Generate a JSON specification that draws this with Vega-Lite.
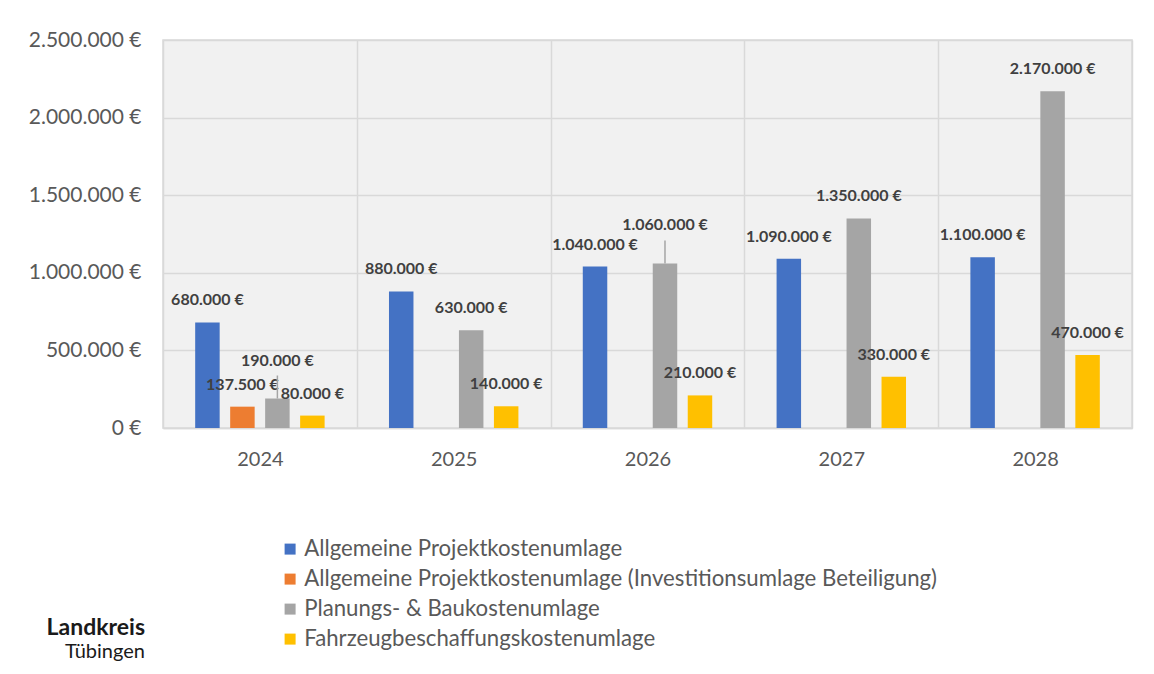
{
  "$schema": "https://vega.github.io/schema/vega-lite/v6.json",
  "width": 969,
  "height": 388,
  "autosize": {"type": "none"},
  "padding": {"left": 163, "top": 40, "right": 22, "bottom": 246},
  "background": "white",
  "config": {
    "locale": {"number": {"decimal": ",", "thousands": ".", "grouping": [3], "currency": ["", "\u00a0€"]}},
    "view": {"fill": "#f1f1f1", "stroke": "#d9d9d9", "strokeWidth": 1.5},
    "font": "Lato"
  },
  "title": {
    "text": "Landkreis",
    "subtitle": "Tübingen",
    "orient": "bottom",
    "anchor": "start",
    "align": "right",
    "frame": "group",
    "dx": -18,
    "dy": -38,
    "font": "Lato",
    "fontSize": 23,
    "fontWeight": "bold",
    "color": "#1a1a1a",
    "subtitleFont": "Lato",
    "subtitleFontSize": 20,
    "subtitleColor": "#1a1a1a",
    "subtitlePadding": 2
  },
  "data": {
    "values": [
      {"Jahr": "2024", "Reihe": "Allgemeine Projektkostenumlage", "Betrag": 680000},
      {"Jahr": "2024", "Reihe": "Allgemeine Projektkostenumlage (Investitionsumlage Beteiligung)", "Betrag": 137500},
      {"Jahr": "2024", "Reihe": "Planungs- & Baukostenumlage", "Betrag": 190000},
      {"Jahr": "2024", "Reihe": "Fahrzeugbeschaffungskostenumlage", "Betrag": 80000},
      {"Jahr": "2025", "Reihe": "Allgemeine Projektkostenumlage", "Betrag": 880000},
      {"Jahr": "2025", "Reihe": "Planungs- & Baukostenumlage", "Betrag": 630000},
      {"Jahr": "2025", "Reihe": "Fahrzeugbeschaffungskostenumlage", "Betrag": 140000},
      {"Jahr": "2026", "Reihe": "Allgemeine Projektkostenumlage", "Betrag": 1040000},
      {"Jahr": "2026", "Reihe": "Planungs- & Baukostenumlage", "Betrag": 1060000},
      {"Jahr": "2026", "Reihe": "Fahrzeugbeschaffungskostenumlage", "Betrag": 210000},
      {"Jahr": "2027", "Reihe": "Allgemeine Projektkostenumlage", "Betrag": 1090000},
      {"Jahr": "2027", "Reihe": "Planungs- & Baukostenumlage", "Betrag": 1350000},
      {"Jahr": "2027", "Reihe": "Fahrzeugbeschaffungskostenumlage", "Betrag": 330000},
      {"Jahr": "2028", "Reihe": "Allgemeine Projektkostenumlage", "Betrag": 1100000},
      {"Jahr": "2028", "Reihe": "Planungs- & Baukostenumlage", "Betrag": 2170000},
      {"Jahr": "2028", "Reihe": "Fahrzeugbeschaffungskostenumlage", "Betrag": 470000}
    ]
  },
  "encoding": {
    "x": {
      "field": "Jahr",
      "type": "nominal",
      "scale": {"paddingInner": 0, "paddingOuter": 0},
      "axis": {
        "title": null,
        "labelAngle": 0,
        "labelFontSize": 20,
        "labelColor": "#595959",
        "labelPadding": 21,
        "ticks": false,
        "domain": true,
        "domainColor": "#d9d9d9",
        "domainWidth": 1.5,
        "grid": true,
        "tickBand": "extent",
        "gridColor": "#d9d9d9",
        "gridWidth": 1.5
      }
    },
    "xOffset": {
      "field": "Reihe",
      "type": "nominal",
      "scale": {
        "domain": [
          "Allgemeine Projektkostenumlage",
          "Allgemeine Projektkostenumlage (Investitionsumlage Beteiligung)",
          "Planungs- & Baukostenumlage",
          "Fahrzeugbeschaffungskostenumlage"
        ],
        "paddingInner": 0.3,
        "paddingOuter": 0.92
      }
    },
    "y": {
      "field": "Betrag",
      "type": "quantitative",
      "scale": {"domain": [0, 2500000]},
      "axis": {
        "title": null,
        "values": [0, 500000, 1000000, 1500000, 2000000, 2500000],
        "format": "$,.0f",
        "labelFontSize": 21,
        "labelColor": "#595959",
        "labelPadding": 22,
        "ticks": false,
        "domain": false,
        "grid": true,
        "gridColor": "#d9d9d9",
        "gridWidth": 1.5
      }
    }
  },
  "layer": [
    {
      "mark": {"type": "bar"},
      "encoding": {
        "color": {
          "field": "Reihe",
          "type": "nominal",
          "scale": {
            "domain": [
              "Allgemeine Projektkostenumlage",
              "Allgemeine Projektkostenumlage (Investitionsumlage Beteiligung)",
              "Planungs- & Baukostenumlage",
              "Fahrzeugbeschaffungskostenumlage"
            ],
            "range": ["#4472C4", "#ED7D31", "#A5A5A5", "#FFC000"]
          },
          "legend": {
            "orient": "none",
            "legendX": 116,
            "legendY": 498,
            "title": null,
            "symbolType": "square",
            "symbolSize": 121,
            "symbolStrokeWidth": 0,
            "labelFontSize": 22.2,
            "labelColor": "#595959",
            "labelOffset": 3,
            "rowPadding": 7,
            "labelLimit": 0
          }
        }
      }
    },
    {
      "transform": [{"filter": "!((datum.Jahr == '2024' || datum.Jahr == '2026') && datum.Reihe == 'Planungs- & Baukostenumlage')"}],
      "mark": {"type": "text", "dy": -22, "fontWeight": "bold", "fontSize": 16, "color": "#404040"},
      "encoding": {
        "text": {"field": "Betrag", "type": "quantitative", "format": "$,.0f"}
      }
    },
    {
      "transform": [{"filter": "(datum.Jahr == '2024' || datum.Jahr == '2026') && datum.Reihe == 'Planungs- & Baukostenumlage'"}],
      "mark": {"type": "text", "dy": -38, "fontWeight": "bold", "fontSize": 16, "color": "#404040"},
      "encoding": {
        "text": {"field": "Betrag", "type": "quantitative", "format": "$,.0f"}
      }
    },
    {
      "transform": [{"filter": "(datum.Jahr == '2024' || datum.Jahr == '2026') && datum.Reihe == 'Planungs- & Baukostenumlage'"}],
      "mark": {"type": "rule", "color": "#a5a5a5", "strokeWidth": 1.5, "y2Offset": -23},
      "encoding": {
        "y2": {"field": "Betrag"}
      }
    }
  ]
}
